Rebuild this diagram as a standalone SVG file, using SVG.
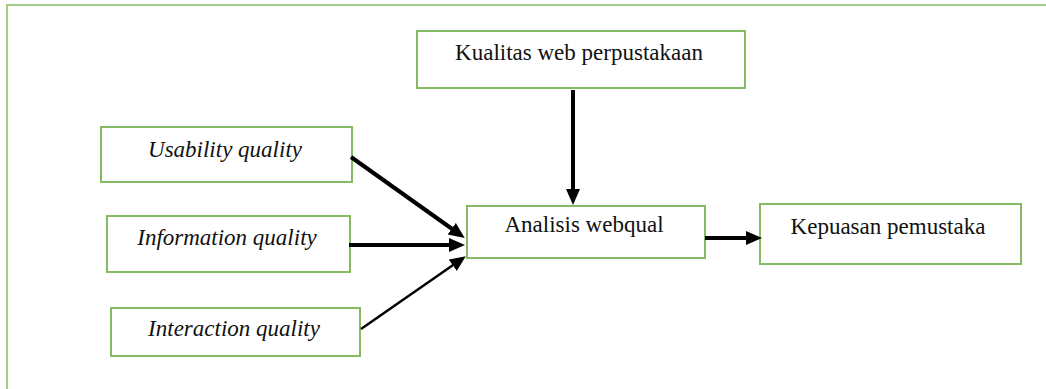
<svg xmlns="http://www.w3.org/2000/svg" width="1046" height="389" viewBox="0 0 1046 389">
<style>
.box{fill:#fff;stroke:#84bb63;stroke-width:2}
.t{font-family:"Liberation Serif","Times New Roman",serif;font-size:23px;fill:#111;text-anchor:middle}
.i{font-style:italic}
.c{stroke:#000;fill:none}
</style>
<defs>
<marker id="ah" markerUnits="userSpaceOnUse" markerWidth="18" markerHeight="16" refX="4" refY="7" orient="auto">
<path d="M0,0 L16,7 L0,14 z" fill="#000"/>
</marker>
</defs>
<rect width="1046" height="389" fill="#fff"/>
<rect x="7" y="5" width="1100" height="500" fill="none" stroke="#a3cd89" stroke-width="2"/>
<g id="kualitas"><rect class="box" x="417" y="31" width="328" height="57"/><text class="t" x="579" y="60">Kualitas web perpustakaan</text></g>
<g id="usability"><rect class="box" x="101" y="127" width="251" height="55"/><text class="t i" x="225" y="157">Usability quality</text></g>
<g id="information"><rect class="box" x="107" y="216" width="243" height="56"/><text class="t i" x="227" y="245">Information quality</text></g>
<g id="interaction"><rect class="box" x="111" y="308" width="249" height="48"/><text class="t i" x="234" y="336">Interaction quality</text></g>
<g id="analisis"><rect class="box" x="467" y="206" width="238" height="52"/><text class="t" x="584" y="232">Analisis webqual</text></g>
<g id="kepuasan"><rect class="box" x="760" y="204" width="261" height="60"/><text class="t" x="888" y="234">Kepuasan pemustaka</text></g>
<g id="connectors">
<line class="c" x1="573" y1="90" x2="573" y2="193" stroke-width="4" marker-end="url(#ah)"/>
<line class="c" x1="351" y1="157" x2="455" y2="231" stroke-width="4" marker-end="url(#ah)"/>
<line class="c" x1="349" y1="245" x2="453" y2="245" stroke-width="4" marker-end="url(#ah)"/>
<line class="c" x1="361" y1="329" x2="456" y2="263" stroke-width="2.5" marker-end="url(#ah)"/>
<line class="c" x1="705" y1="238" x2="750" y2="238" stroke-width="4" marker-end="url(#ah)"/>
</g>
</svg>
